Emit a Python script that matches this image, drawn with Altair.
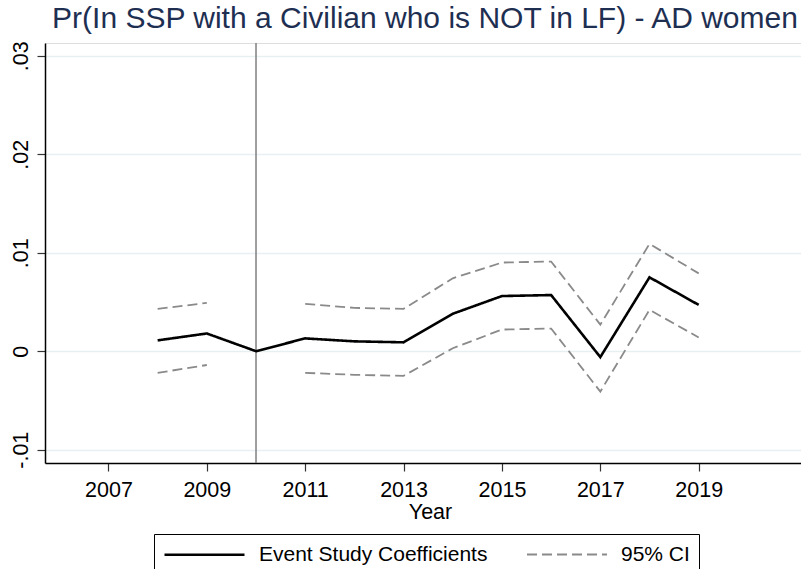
import altair as alt
import pandas as pd

# Event-study estimates by survey year (2010 is the omitted reference year)
years = [2008, 2009, 2010, 2011, 2012, 2013, 2014, 2015, 2016, 2017, 2018, 2019]
coef = [0.0011, 0.0018, 0.0, 0.0013, 0.0010, 0.0009, 0.0038, 0.0056, 0.0057, -0.0006, 0.0075, 0.0047]
ci_upper = [0.0043, 0.0049, None, 0.0048, 0.0044, 0.0043, 0.0074, 0.0090, 0.0091, 0.0027, 0.0109, 0.0079]
ci_lower = [-0.0022, -0.0014, None, -0.0022, -0.0024, -0.0025, 0.0003, 0.0022, 0.0023, -0.0041, 0.0042, 0.0014]
ref_year = [2010]
x_ticks = [2007, 2009, 2011, 2013, 2015, 2017, 2019]
y_ticks = [-0.01, 0.0, 0.01, 0.02, 0.03]

COEF_LABEL = "Event Study Coefficients"
CI_LABEL = "95% CI"
FONT = "Liberation Sans"

coef_df = pd.DataFrame({"year": years, "value": coef, "series": COEF_LABEL, "seg": "coef"})

ci_rows = []
for bound_name, bound in (("upper", ci_upper), ("lower", ci_lower)):
    for yr, v in zip(years, bound):
        if v is None:
            continue
        part = "pre" if yr < ref_year[0] else "post"
        ci_rows.append({"year": yr, "value": v, "series": CI_LABEL, "seg": f"{bound_name}_{part}"})
ci_df = pd.DataFrame(ci_rows)

x_scale = alt.Scale(domain=[2005.71, 2021.08], nice=False, zero=False)
y_scale = alt.Scale(domain=[-0.01135, 0.03129], nice=False, zero=False)

# Long, flat legend keys: a short nominal symbol whose path runs well past its box
legend = alt.Legend(
    title=None, orient="none", legendX=109, legendY=491, direction="horizontal",
    strokeColor="#000000", padding=9, fillColor="#ffffff",
    symbolType="M-1,0L7,0", symbolSize=400, labelFontSize=21, labelFont=FONT,
    labelColor="#000000", labelOffset=73, columnPadding=35, labelLimit=400,
)

series_domain = [COEF_LABEL, CI_LABEL]
color = alt.Color("series:N", scale=alt.Scale(domain=series_domain, range=["#000000", "#8a8a8a"]),
                  legend=legend)
dash = alt.StrokeDash("series:N", scale=alt.Scale(domain=series_domain, range=[[1, 0], [10, 5]]),
                      legend=legend)
width_enc = alt.StrokeWidth("series:N", scale=alt.Scale(domain=series_domain, range=[2.6, 1.8]),
                            legend=legend)

x_enc = alt.X("year:Q", scale=x_scale, title="Year",
              axis=alt.Axis(values=x_ticks, format="d", grid=False, tickSize=8, labelPadding=8,
                            labelFontSize=21.5, titleFontSize=21.5, titlePadding=1,
                            titleX=385, labelFont=FONT, titleFont=FONT,
                            labelColor="#000000", titleColor="#000000", titleFontWeight="normal",
                            domainColor="#000000", tickColor="#333333", domainWidth=1.5, tickWidth=1.2))
y_enc = alt.Y("value:Q", scale=y_scale, title=None,
              axis=alt.Axis(values=y_ticks,
                            labelExpr="datum.value == 0 ? '0' : (datum.value < 0 ? '-' : '') + replace(format(abs(datum.value), '.2f'), '0.', '.')",
                            labelAngle=270, labelAlign="center", labelBaseline="bottom",
                            tickSize=8, labelPadding=5, labelFontSize=21.5, labelFont=FONT,
                            labelColor="#000000", grid=True, gridColor="#e8eff1", gridWidth=1.5,
                            domainColor="#000000", tickColor="#333333", domainWidth=1.5, tickWidth=1.2))

ci_layer = alt.Chart(ci_df).mark_line().encode(
    x=x_enc, y=y_enc, color=color, strokeDash=dash, strokeWidth=width_enc, detail="seg:N"
)
coef_layer = alt.Chart(coef_df).mark_line().encode(
    x=x_enc, y=y_enc, color=color, strokeDash=dash, strokeWidth=width_enc
)
ref_rule = alt.Chart(pd.DataFrame({"year": ref_year})).mark_rule(
    color="#7f7f7f", strokeWidth=1.5
).encode(x=alt.X("year:Q", scale=x_scale))

chart = alt.layer(ref_rule, ci_layer, coef_layer).properties(
    width=756,
    height=420,
    title=alt.TitleParams(
        "Pr(In SSP with a Civilian who is NOT in LF) - AD women",
        font=FONT, fontSize=30, fontWeight="normal", color="#1e2f52",
        anchor="middle", frame="group", offset=7, dx=2,
    ),
    padding={"left": 45, "top": 43, "right": 0, "bottom": 106},
    autosize=alt.AutoSizeParams(type="none"),
).configure_view(stroke=None).configure(background="#ffffff")

chart.save("out.html", embed_options={"renderer": "svg", "actions": False})
